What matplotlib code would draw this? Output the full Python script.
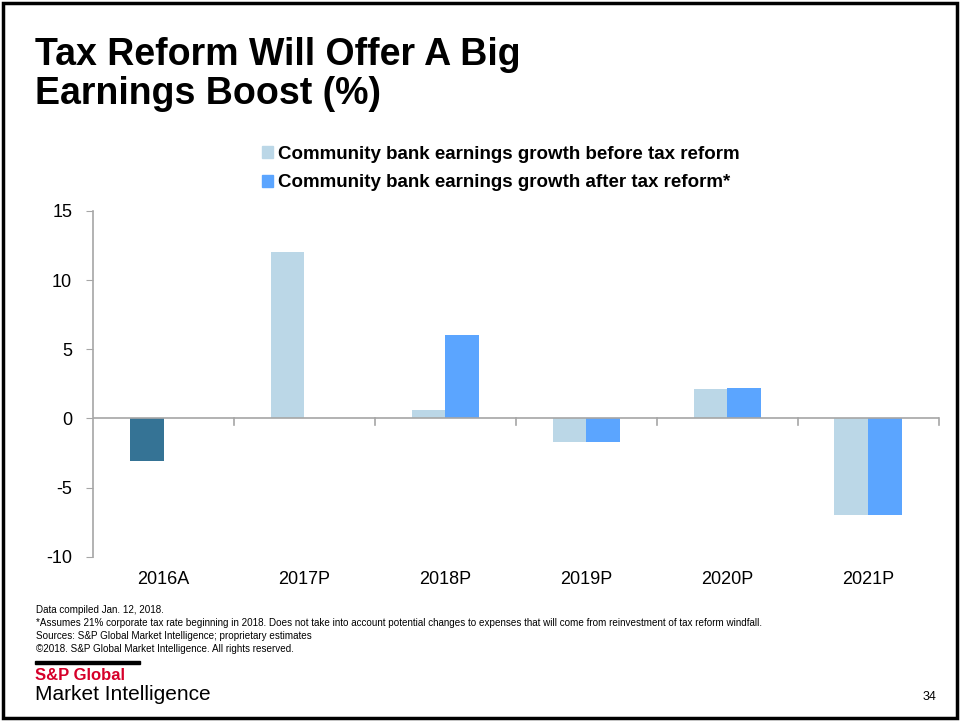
import numpy as np
import matplotlib.pyplot as plt
from matplotlib.patches import Rectangle, Patch

years = ["2016A", "2017P", "2018P", "2019P", "2020P", "2021P"]
before_reform = [-3.1, 12.0, 0.6, -1.7, 2.1, -7.0]
after_reform = [np.nan, np.nan, 6.0, -1.7, 2.2, -7.0]

light_blue = "#BBD7E7"
bright_blue = "#5BA5FF"
actual_blue = "#357395"
axis_gray = "#A6A6A6"

plt.rcParams["font.family"] = ["Liberation Sans", "DejaVu Sans"]

fig = plt.figure(figsize=(9.6, 7.21), dpi=100)
ax = fig.add_axes([0.0969, 0.2279, 0.881, 0.4795])

x = np.arange(len(years))
w = 0.24
before_colors = [actual_blue if y.endswith("A") else light_blue for y in years]
ax.bar(x - w / 2, before_reform, w, color=before_colors)
ax.bar(x + w / 2, after_reform, w, color=bright_blue)

ax.set_xlim(-0.5, len(years) - 0.5)
ax.set_ylim(-10, 15)
ax.set_yticks([-10, -5, 0, 5, 10, 15])
ax.set_yticklabels(["-10", "-5", "0", "5", "10", "15"])
ax.tick_params(axis="y", labelsize=13, length=5, color=axis_gray, pad=10)

# category labels sit below the plot, ticks hang off the zero line
ax.set_xticks([])
for i, y in enumerate(years):
    ax.text(i, -11.0, y, ha="center", va="top", fontsize=13)
ax.axhline(0, color=axis_gray, lw=1.2, zorder=3)
for b in np.arange(0.5, len(years), 1.0):
    ax.plot([b, b], [0, -0.45], color=axis_gray, lw=1.2, clip_on=False, zorder=3)

for s in ["top", "right", "bottom"]:
    ax.spines[s].set_visible(False)
ax.spines["left"].set_color(axis_gray)
ax.spines["left"].set_linewidth(1.2)

handles = [Patch(color=light_blue), Patch(color=bright_blue)]
labels = ["Community bank earnings growth before tax reform",
          "Community bank earnings growth after tax reform*"]
leg = fig.legend(handles, labels, loc="upper left", bbox_to_anchor=(0.265, 0.808),
                 frameon=False, handlelength=0.6, handleheight=0.6,
                 handletextpad=0.25, labelspacing=0.6, borderaxespad=0,
                 prop={"weight": "bold", "size": 13.5})

fig.text(0.036, 0.949, "Tax Reform Will Offer A Big\nEarnings Boost (%)",
         ha="left", va="top", fontsize=27, fontweight="bold", linespacing=1.1)

notes = ["Data compiled Jan. 12, 2018.",
         "*Assumes 21% corporate tax rate beginning in 2018. Does not take into account "
         "potential changes to expenses that will come from reinvestment of tax reform windfall.",
         "Sources: S&P Global Market Intelligence; proprietary estimates",
         "\u00a92018. S&P Global Market Intelligence. All rights reserved."]
for k, line in enumerate(notes):
    fig.text(0.038, 1 - (610 + 13 * k) / 721, line, ha="left", va="center",
             fontsize=7.1)

# logo block
fig.add_artist(Rectangle((35 / 960, 1 - 664 / 721), 105 / 960, 3 / 721,
                         transform=fig.transFigure, color="black"))
fig.text(0.036, 1 - 675 / 721, "S&P Global", ha="left", va="center",
         fontsize=12, fontweight="bold", color="#D6002A")
fig.text(0.036, 1 - 694 / 721, "Market Intelligence", ha="left", va="center",
         fontsize=15, color="black")
fig.text(0.968, 1 - 697 / 721, "34", ha="center", va="center", fontsize=9)

# slide border
fig.add_artist(Rectangle((3 / 960, 3 / 721), 954 / 960, 715 / 721,
                         transform=fig.transFigure, fill=False,
                         edgecolor="black", lw=2.5))

fig.savefig("out.png", dpi=100)
